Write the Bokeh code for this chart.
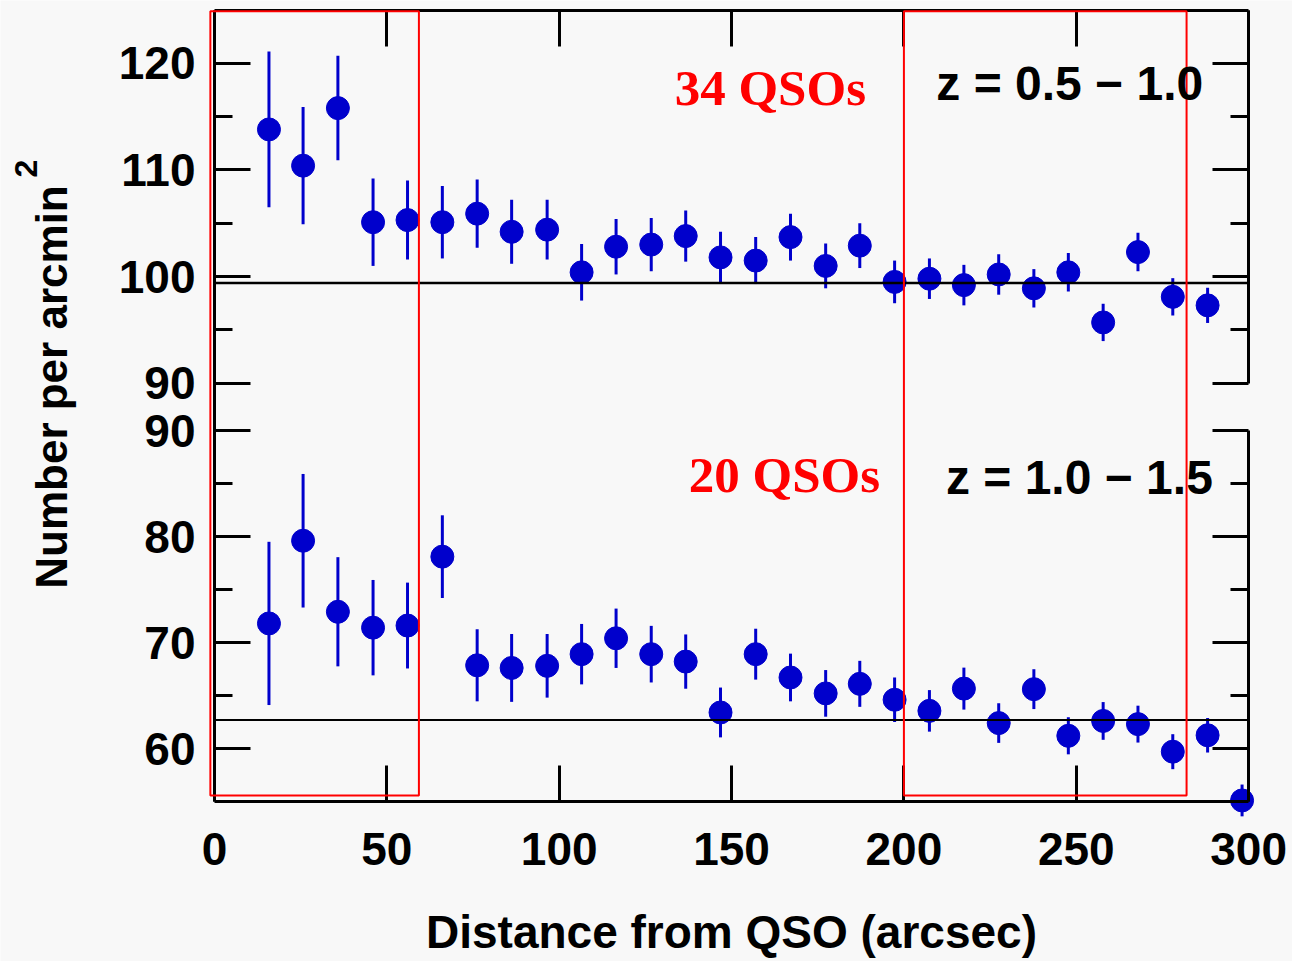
from math import pi
from bokeh.plotting import figure
from bokeh.models import Range1d, LinearAxis, FixedTicker, BoxAnnotation, Label
from bokeh.embed import file_html
from bokeh.resources import INLINE

# ---------------- data ----------------
distance = [15.8, 25.7, 35.8, 46.0, 56.0, 66.1, 76.2, 86.2, 96.5, 106.5,
            116.5, 126.7, 136.7, 146.8, 157.0, 167.1, 177.3, 187.2, 197.3, 207.4,
            217.4, 227.5, 237.7, 247.7, 257.8, 267.9, 278.0, 288.1, 298.1]

# z = 0.5 - 1.0 (34 QSOs)
top_density = [113.8, 110.4, 115.8, 105.1, 105.3, 105.1, 105.9, 104.2, 104.4, 100.4,
               102.8, 103.0, 103.8, 101.8, 101.5, 103.7, 101.0, 102.9, 99.5, 99.8,
               99.2, 100.2, 98.9, 100.4, 95.7, 102.3, 98.1, 97.3]
top_error = [7.3, 5.5, 4.9, 4.1, 3.7, 3.4, 3.2, 3.0, 2.8, 2.65,
             2.6, 2.5, 2.4, 2.4, 2.2, 2.2, 2.1, 2.1, 2.0, 1.9,
             1.9, 1.9, 1.8, 1.8, 1.75, 1.8, 1.75, 1.65]
top_background = 99.4

# z = 1.0 - 1.5 (20 QSOs)
bottom_density = [71.8, 79.6, 72.9, 71.4, 71.6, 78.1, 67.85, 67.6, 67.8, 68.9,
                  70.4, 68.9, 68.2, 63.4, 68.9, 66.7, 65.2, 66.1, 64.6, 63.55,
                  65.65, 62.4, 65.6, 61.2, 62.6, 62.3, 59.7, 61.25, 55.1]
bottom_error = [7.7, 6.3, 5.15, 4.5, 4.05, 3.9, 3.4, 3.2, 3.0, 2.85,
                2.8, 2.67, 2.56, 2.35, 2.4, 2.25, 2.2, 2.17, 2.1, 1.96,
                1.98, 1.87, 1.88, 1.75, 1.78, 1.74, 1.65, 1.63, 1.5]
bottom_background = 62.7

x_ticks = [0, 50, 100, 150, 200, 250, 300]
top_ticks = [90, 100, 110, 120]
top_minor = [95, 105, 115]
bottom_ticks = [60, 70, 80, 90]
bottom_minor = [65, 75, 85]
x_limits = (0, 300)
top_limits = (90, 125)
bottom_limits = (55, 90)
regions = [(-1.2, 59.3), (200.0, 282.0)]

top_label = ("34 QSOs", "z = 0.5 \u2212 1.0")
bottom_label = ("20 QSOs", "z = 1.0 \u2212 1.5")

# ---------------- styles ----------------
BG = "#F8F8F8"
BLUE = "#0000CC"
RED = "#FF0000"
SANS = "Liberation Sans"
SERIF = "Liberation Serif"

p = figure(width=1292, height=961, output_backend="svg", toolbar_location=None,
           x_range=Range1d(-62.08, 312.73), y_range=Range1d(39.906, 130.566),
           x_axis_location=None, y_axis_location=None,
           min_border_left=0, min_border_right=0, min_border_top=0, min_border_bottom=0,
           background_fill_color=BG, border_fill_color=BG, outline_line_color=None)
p.title.visible = False
p.grid.visible = False
p.extra_y_ranges = {"top": Range1d(35.766, 125.891)}


def add_axis(side, loc, ticks, minor, range_name, bounds, labels):
    ax = LinearAxis(fixed_location=loc, y_range_name=range_name, bounds=bounds,
                    ticker=FixedTicker(ticks=ticks, minor_ticks=minor),
                    axis_line_width=3, axis_line_color="black",
                    major_tick_line_width=3, minor_tick_line_width=3,
                    major_tick_line_color="black", minor_tick_line_color="black",
                    major_tick_in=36, major_tick_out=0, minor_tick_in=18, minor_tick_out=0,
                    major_label_text_font=SANS, major_label_text_font_style="bold",
                    major_label_text_font_size="46px", major_label_text_color="black")
    if not labels:
        ax.major_label_text_alpha = 0
    p.add_layout(ax, side)
    return ax


# x axes
add_axis("above", top_limits[1], x_ticks, [], "top", x_limits, False)
xb = add_axis("below", bottom_limits[0], x_ticks, [], "default", x_limits, True)
xb.major_label_standoff = 31
xb.axis_label = "Distance from QSO (arcsec)"
xb.axis_label_text_font = SANS
xb.axis_label_text_font_style = "bold"
xb.axis_label_text_font_size = "46px"
xb.axis_label_text_color = "black"
xb.axis_label_standoff = 38

# y axes
yl_top = add_axis("left", x_limits[0], top_ticks, top_minor, "top", top_limits, True)
yl_top.major_label_standoff = 19
yl_bot = add_axis("left", x_limits[0], bottom_ticks, bottom_minor, "default", (55, 94.5), True)
yl_bot.major_label_standoff = 19
add_axis("right", x_limits[1], top_ticks, top_minor, "top", top_limits, False)
add_axis("right", x_limits[1], bottom_ticks, bottom_minor, "default", bottom_limits, False)

# data: top panel
n_top = len(top_density)
xt = distance[:n_top]
p.segment(x0=xt, x1=xt,
          y0=[v - e for v, e in zip(top_density, top_error)],
          y1=[v + e for v, e in zip(top_density, top_error)],
          y_range_name="top", line_color=BLUE, line_width=3)
p.scatter(xt, top_density, y_range_name="top", size=23, color=BLUE)
p.segment(x0=[x_limits[0]], x1=[x_limits[1]], y0=[top_background], y1=[top_background],
          y_range_name="top", line_color="black", line_width=2.6)

# data: bottom panel
xbm = distance[:len(bottom_density)]
p.segment(x0=xbm, x1=xbm,
          y0=[v - e for v, e in zip(bottom_density, bottom_error)],
          y1=[v + e for v, e in zip(bottom_density, bottom_error)],
          line_color=BLUE, line_width=3)
p.scatter(xbm, bottom_density, size=23, color=BLUE)
p.segment(x0=[x_limits[0]], x1=[x_limits[1]], y0=[bottom_background], y1=[bottom_background],
          line_color="black", line_width=2)

# red regions
for left, right in regions:
    p.add_layout(BoxAnnotation(left=left, right=right, bottom=55.57, top=129.56,
                               fill_color=None, fill_alpha=0,
                               line_color=RED, line_alpha=1.0, line_width=2))

# in-panel labels
p.add_layout(Label(x=133.5, y=117.7, y_range_name="top", text=top_label[0],
                   text_font=SERIF, text_font_style="bold", text_font_size="51px",
                   text_color=RED, text_align="left", text_baseline="alphabetic"))
p.add_layout(Label(x=209.4, y=118.15, y_range_name="top", text=top_label[1],
                   text_font=SANS, text_font_style="bold", text_font_size="48px",
                   text_color="black", text_align="left", text_baseline="alphabetic"))
p.add_layout(Label(x=137.6, y=85.8, text=bottom_label[0],
                   text_font=SERIF, text_font_style="bold", text_font_size="51px",
                   text_color=RED, text_align="left", text_baseline="alphabetic"))
p.add_layout(Label(x=212.2, y=85.55, text=bottom_label[1],
                   text_font=SANS, text_font_style="bold", text_font_size="48px",
                   text_color="black", text_align="left", text_baseline="alphabetic"))

# y title (screen units, relative to frame bottom-left = canvas bottom-left)
p.add_layout(Label(x=51, y=574.5, x_units="screen", y_units="screen",
                   text="Number per arcmin", angle=pi / 2,
                   text_font=SANS, text_font_style="bold", text_font_size="44px",
                   text_color="black", text_align="center", text_baseline="alphabetic"))
p.add_layout(Label(x=25, y=784, x_units="screen", y_units="screen",
                   text="2", angle=pi / 2,
                   text_font=SANS, text_font_style="bold", text_font_size="32px",
                   text_color="black", text_align="left", text_baseline="alphabetic"))

open("out.html", "w").write(file_html(p, INLINE))
